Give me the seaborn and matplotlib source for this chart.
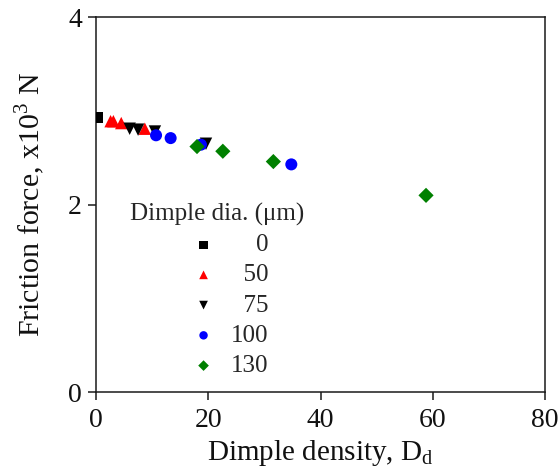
import matplotlib
matplotlib.use("Agg")
import matplotlib.pyplot as plt
import seaborn as sns
import pandas as pd

# ---- data ----
x_dia0 = [0.2]
y_dia0 = [2.93]
x_dia50 = [2.6, 3.1, 4.5, 8.7]
y_dia50 = [2.89, 2.89, 2.87, 2.81]
x_dia75 = [6.0, 7.5, 10.5, 19.6]
y_dia75 = [2.81, 2.80, 2.78, 2.65]
x_dia100 = [10.7, 13.3, 18.7, 34.8]
y_dia100 = [2.74, 2.71, 2.64, 2.43]
x_dia130 = [18.0, 22.6, 31.6, 58.8]
y_dia130 = [2.62, 2.57, 2.46, 2.10]

series_names = ["0", "50", "75", "100", "130"]
legend_labels = ["    0", "  50", "  75", "100", "130"]
xs = [x_dia0, x_dia50, x_dia75, x_dia100, x_dia130]
ys = [y_dia0, y_dia50, y_dia75, y_dia100, y_dia130]
colors = ["#000000", "#ff0000", "#000000", "#0000ff", "#008000"]
markers = ["s", "^", "v", "o", "D"]
sizes = [70, 80, 80, 75, 60]

x_ticks = [0, 20, 40, 60, 80]
y_ticks = [0, 2, 4]

sns.set_style("ticks")
plt.rcParams["font.family"] = ["Liberation Serif", "DejaVu Serif"]
plt.rcParams["mathtext.fontset"] = "custom"
plt.rcParams["mathtext.rm"] = "Liberation Serif"

fig = plt.figure(figsize=(5.59, 4.75), dpi=100)
ax = fig.add_axes([0.1717, 0.1737, 0.975 - 0.1717, 0.9642 - 0.1737])

for name, lab, x, y, c, m, s in zip(series_names, legend_labels, xs, ys, colors, markers, sizes):
    df = pd.DataFrame({"Dimple density": x, "Friction force": y})
    sns.scatterplot(data=df, x="Dimple density", y="Friction force", ax=ax,
                    color=c, marker=m, s=s, edgecolor="none", linewidth=0,
                    label=lab, zorder=3)

ax.set_xlim(0, 80)
ax.set_ylim(0, 4)
ax.set_xticks(x_ticks)
ax.set_yticks(y_ticks)
ax.set_xticklabels([str(v) for v in x_ticks])
ax.set_yticklabels([str(v) for v in y_ticks])
ax.tick_params(axis="both", which="major", labelsize=20, length=6, width=1.1,
               direction="out", color="#1a1a1a", labelcolor="#111111")
ax.tick_params(axis="x", pad=5)
ax.tick_params(axis="y", pad=4)
for sp in ax.spines.values():
    sp.set_visible(True)
    sp.set_linewidth(1.1)
    sp.set_color("#1a1a1a")

ax.set_xlabel(r"Dimple density, D$_\mathregular{d}$", fontsize=21, labelpad=4, color="#111111")
ax.set_ylabel(r"Friction force, x10$^\mathregular{3}$ N", fontsize=21.5, labelpad=15, color="#111111")

leg = ax.legend(title="Dimple dia. (\u03bcm)    ", loc="center",
                bbox_to_anchor=(0.298, 0.273), frameon=False,
                fontsize=18, title_fontsize=18, markerscale=0.7,
                handlelength=1.0, handletextpad=0.6, labelspacing=0.31,
                borderpad=0.2)

fig.savefig("out.png", dpi=100)
